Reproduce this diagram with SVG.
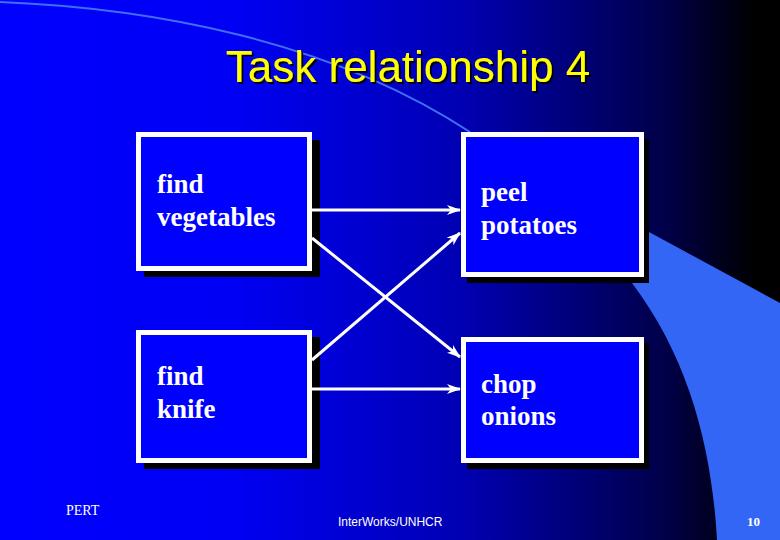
<svg xmlns="http://www.w3.org/2000/svg" width="780" height="540" viewBox="0 0 780 540">
  <defs>
    <linearGradient id="bg" x1="0" y1="0" x2="1" y2="0">
      <stop offset="0" stop-color="#0000ff"/>
      <stop offset="0.3" stop-color="#0000f4"/>
      <stop offset="0.6" stop-color="#0000b0"/>
      <stop offset="0.85" stop-color="#00004a"/>
      <stop offset="0.97" stop-color="#000000"/>
      <stop offset="1" stop-color="#000000"/>
    </linearGradient>
    <filter id="tshadow" x="-5%" y="-20%" width="110%" height="140%">
      <feDropShadow dx="2" dy="2" stdDeviation="0.6" flood-color="#000000" flood-opacity="0.9"/>
    </filter>
    <marker id="arr" viewBox="0 0 14 10" refX="13" refY="5" markerWidth="14" markerHeight="10" markerUnits="userSpaceOnUse" orient="auto">
      <path d="M0,0 L14,5 L0,10 L4,5 z" fill="#ffffff"/>
    </marker>
    <style>
      .shadow { fill: #000000; }
      .box { fill: #0000ff; stroke: #ffffff; stroke-width: 5; }
      .lbl { font-family: "Liberation Serif", "Times New Roman", serif; font-weight: bold; font-size: 27px; fill: #ffffff; }
      .conn { stroke: #ffffff; stroke-width: 3; fill: none; marker-end: url(#arr); }
      .title { font-family: "Liberation Sans", Arial, sans-serif; font-size: 44px; text-anchor: middle; fill: #ffff00; }
    </style>
  </defs>

  <!-- background -->
  <rect x="0" y="0" width="780" height="540" fill="url(#bg)"/>
  <!-- decorative wedge and arc -->
  <path d="M620,250 L649,232 L780,303 L780,540 L717,540 C712,450 690,360 632,283 Z" fill="#3366f5"/>
  <path d="M0,2 C150,8 330,40 470,132" fill="none" stroke="#3f6ff5" stroke-width="2"/>

  <!-- title -->
  <g id="title">
    <text class="title" x="408" y="82" filter="url(#tshadow)">Task relationship 4</text>
  </g>

  <!-- nodes -->
  <g id="find-vegetables">
    <rect class="shadow" x="144" y="140" width="176" height="137"/>
    <rect class="box" x="138.5" y="134.5" width="171" height="134"/>
    <text class="lbl" x="157" y="193">find</text>
    <text class="lbl" x="157" y="226">vegetables</text>
  </g>
  <g id="peel-potatoes">
    <rect class="shadow" x="467" y="139" width="182" height="144"/>
    <rect class="box" x="463.5" y="134.5" width="178" height="140"/>
    <text class="lbl" x="481" y="201">peel</text>
    <text class="lbl" x="481" y="234">potatoes</text>
  </g>
  <g id="find-knife">
    <rect class="shadow" x="144" y="337" width="176" height="132"/>
    <rect class="box" x="138.5" y="332.5" width="171" height="128"/>
    <text class="lbl" x="157" y="385">find</text>
    <text class="lbl" x="157" y="418">knife</text>
  </g>
  <g id="chop-onions">
    <rect class="shadow" x="467" y="343" width="182" height="126"/>
    <rect class="box" x="463.5" y="339.5" width="178" height="121"/>
    <text class="lbl" x="481" y="393">chop</text>
    <text class="lbl" x="481" y="425">onions</text>
  </g>

  <!-- connectors -->
  <g id="connectors">
    <line class="conn" x1="312" y1="210" x2="460" y2="210"/>
    <line class="conn" x1="312" y1="238" x2="460" y2="357"/>
    <line class="conn" x1="312" y1="360" x2="460" y2="233"/>
    <line class="conn" x1="312" y1="389" x2="460" y2="389"/>
  </g>

  <!-- footer -->
  <g id="footer">
    <text x="66" y="515" font-family="Liberation Serif, serif" font-size="14" fill="#ffffff">PERT</text>
    <text x="338" y="526" font-family="Liberation Sans, Arial, sans-serif" font-size="12" fill="#ffffff">InterWorks/UNHCR</text>
    <text x="747" y="526" font-family="Liberation Serif, serif" font-weight="bold" font-size="13" fill="#ffffff">10</text>
  </g>
</svg>
